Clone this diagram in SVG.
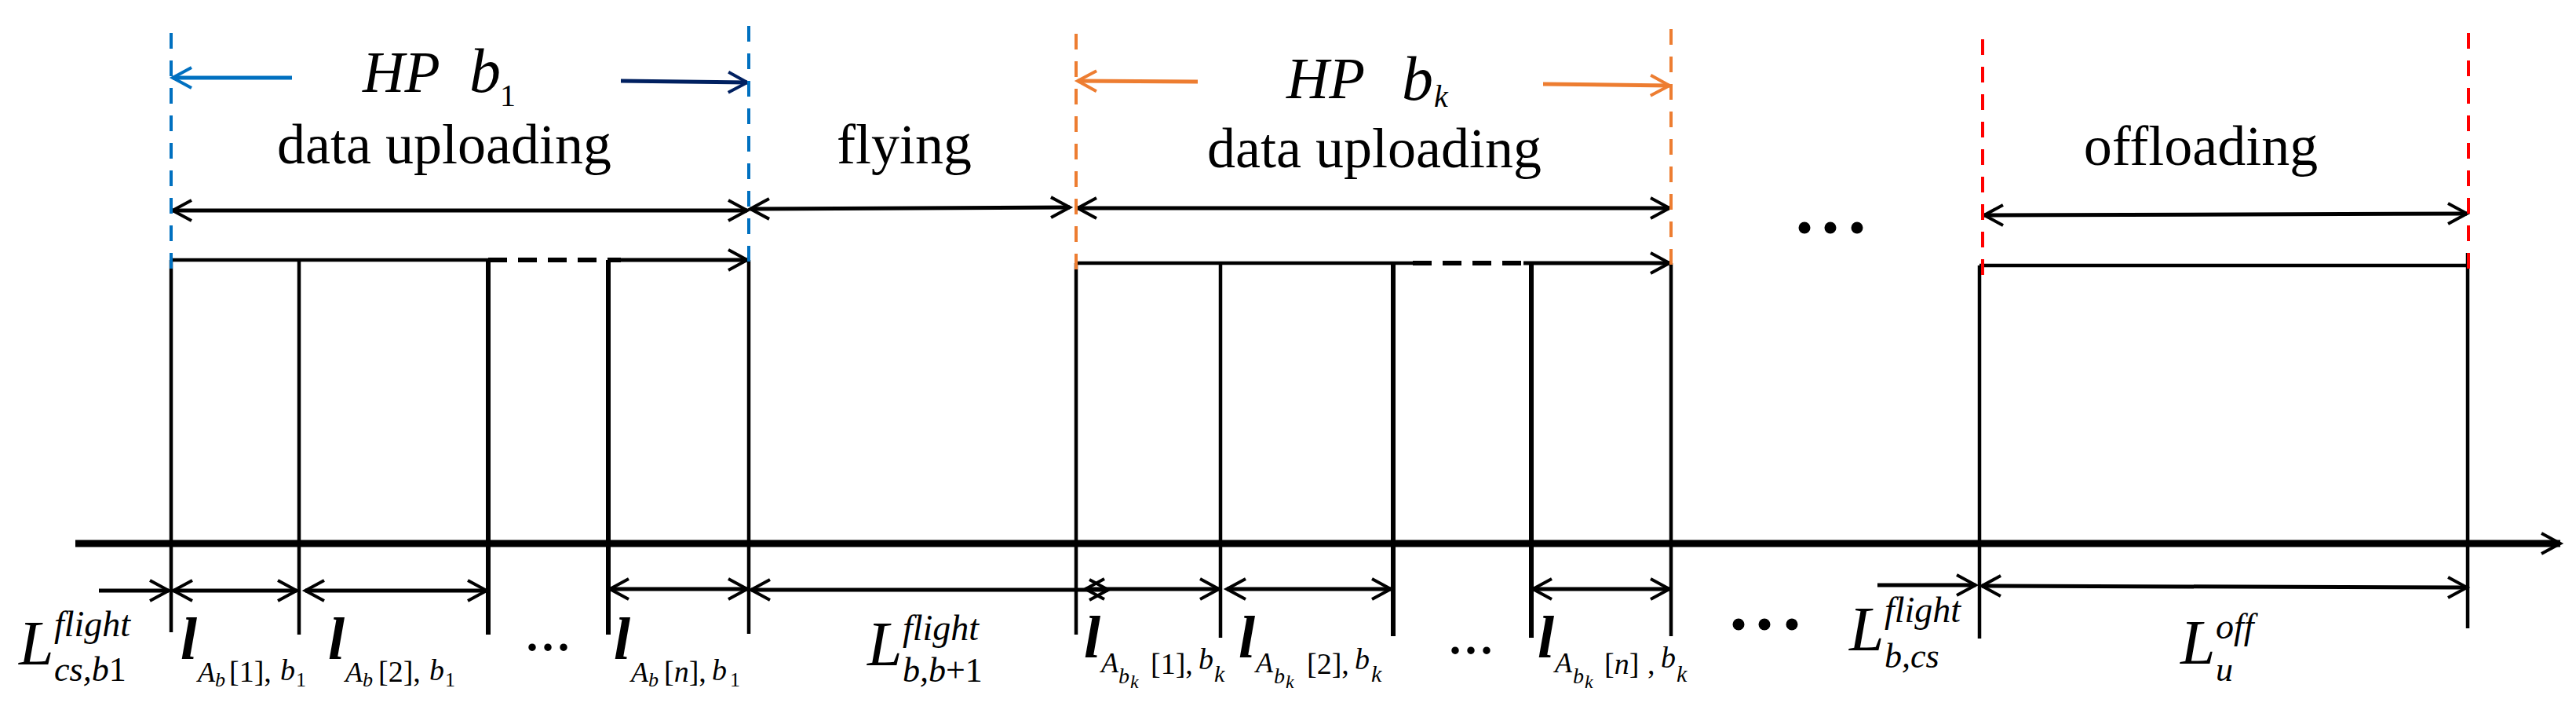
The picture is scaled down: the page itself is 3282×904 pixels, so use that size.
<svg xmlns="http://www.w3.org/2000/svg" width="3282" height="904" viewBox="0 0 3282 904">
<style>
.t{font-family:"Liberation Serif","Times New Roman",serif;fill:#000}
.i{font-style:italic}
.bi{font-style:italic;font-weight:bold}
.ln{stroke:#000;stroke-width:4.5;fill:none}
.thk{stroke:#000;stroke-width:6;fill:none}
.ar{stroke:#000;stroke-width:5;fill:none;marker-end:url(#ah)}
.dar{stroke:#000;stroke-width:5;fill:none;marker-start:url(#ah);marker-end:url(#ah)}
.dsh{stroke-width:4;stroke-dasharray:20 15;fill:none}
</style>
<defs>
<marker id="ah" viewBox="-28 -16 32 32" refX="0" refY="0" markerWidth="32" markerHeight="32" markerUnits="userSpaceOnUse" orient="auto-start-reverse" overflow="visible"><path d="M-24,-13 L0,0 L-24,13" fill="none" stroke="#000" stroke-width="4"/></marker>
<marker id="ahBlue" viewBox="-28 -16 32 32" refX="0" refY="0" markerWidth="32" markerHeight="32" markerUnits="userSpaceOnUse" orient="auto" overflow="visible"><path d="M-24,-13 L0,0 L-24,13" fill="none" stroke="#0070C0" stroke-width="4"/></marker>
<marker id="ahNavy" viewBox="-28 -16 32 32" refX="0" refY="0" markerWidth="32" markerHeight="32" markerUnits="userSpaceOnUse" orient="auto" overflow="visible"><path d="M-24,-13 L0,0 L-24,13" fill="none" stroke="#002060" stroke-width="4"/></marker>
<marker id="ahOrange" viewBox="-28 -16 32 32" refX="0" refY="0" markerWidth="32" markerHeight="32" markerUnits="userSpaceOnUse" orient="auto" overflow="visible"><path d="M-24,-13 L0,0 L-24,13" fill="none" stroke="#ED7D31" stroke-width="4"/></marker>
</defs>
<rect width="3282" height="904" fill="#fff"/>

<g id="axis">
<line x1="96" y1="692" x2="3262" y2="692" stroke="#000" stroke-width="9" marker-end="url(#ah)"/>
</g>

<g id="block1">
<path class="ln" d="M218,331 L622,331"/>
<path class="thk" d="M622,331 L791,331" stroke-dasharray="24 14"/>
<path class="ar" d="M791,331 L952,331"/>
<line class="ln" x1="218" y1="331" x2="218" y2="805"/>
<line class="ln" x1="381" y1="331" x2="381" y2="808"/>
<line class="thk" x1="622" y1="331" x2="622" y2="808"/>
<line class="thk" x1="775" y1="331" x2="775" y2="808"/>
<line class="ln" x1="954" y1="331" x2="954" y2="807"/>
<text class="t i" x="462" y="117" font-size="74">HP</text>
<text class="t"><tspan class="i" x="598" y="117" font-size="80">b</tspan><tspan x="637" y="135" font-size="40">1</tspan></text>
<text class="t" x="566" y="208" font-size="72" text-anchor="middle">data uploading</text>
</g>

<g id="flying">
<text class="t" x="1152" y="208" font-size="72" text-anchor="middle">flying</text>
</g>

<g id="block2">
<path class="ln" d="M1371,335 L1800,335"/>
<path class="thk" d="M1800,335 L1941,335" stroke-dasharray="24 14"/>
<path class="ar" d="M1941,335 L2127,335"/>
<line class="ln" x1="1371" y1="335" x2="1371" y2="808"/>
<line class="ln" x1="1555" y1="335" x2="1555" y2="812"/>
<line class="thk" x1="1775" y1="335" x2="1775" y2="810"/>
<line class="thk" x1="1951" y1="335" x2="1951" y2="812"/>
<line class="ln" x1="2129" y1="335" x2="2129" y2="810"/>
<text class="t i" x="1639" y="125" font-size="75">HP</text>
<text class="t i"><tspan x="1786" y="127" font-size="80">b</tspan><tspan x="1827" y="136" font-size="40">k</tspan></text>
<text class="t" x="1751" y="213" font-size="72" text-anchor="middle">data uploading</text>
</g>

<g id="block3">
<path class="ln" d="M2522,338 L3144,338"/>
<line class="ln" x1="2522" y1="338" x2="2522" y2="813"/>
<line class="ln" x1="3144" y1="322" x2="3144" y2="800"/>
<text class="t" x="2804" y="210" font-size="72" text-anchor="middle">offloading</text>
</g>

<g id="ellipses">
<circle cx="2299" cy="290" r="7.5"/><circle cx="2332" cy="290" r="7.5"/><circle cx="2366" cy="290" r="7.5"/>
<circle cx="2215" cy="795" r="7.5"/><circle cx="2248" cy="795" r="7.5"/><circle cx="2283" cy="795" r="7.5"/>
<text class="t" x="668" y="828" font-size="80">...</text>
<text class="t" x="1844" y="832" font-size="80">...</text>
</g>

<g id="connectors">
<path class="dar" d="M220,268 L952,268"/>
<path class="dar" d="M956,266 L1363,264"/>
<path class="dar" d="M1373,265 L2127,265"/>
<path class="dar" d="M2528,274 L3143,272"/>
<path d="M372,99 L220,99" stroke="#0070C0" stroke-width="5" fill="none" marker-end="url(#ahBlue)"/>
<path d="M791,103 L952,105" stroke="#002060" stroke-width="5" fill="none" marker-end="url(#ahNavy)"/>
<path d="M1526,104 L1373,103" stroke="#ED7D31" stroke-width="5" fill="none" marker-end="url(#ahOrange)"/>
<path d="M1966,107 L2127,109" stroke="#ED7D31" stroke-width="5" fill="none" marker-end="url(#ahOrange)"/>
<line class="dsh" stroke="#0070C0" x1="218" y1="42" x2="218" y2="343"/>
<line class="dsh" stroke="#0070C0" x1="954" y1="33" x2="954" y2="337"/>
<line class="dsh" stroke="#ED7D31" x1="1371" y1="43" x2="1371" y2="348"/>
<line class="dsh" stroke="#ED7D31" x1="2129" y1="37" x2="2129" y2="343"/>
<line class="dsh" stroke="#FF0000" x1="2526" y1="50" x2="2526" y2="353"/>
<line class="dsh" stroke="#FF0000" x1="3145" y1="42" x2="3145" y2="345"/>
<path class="ar" d="M126,752 L215,752"/>
<path class="dar" d="M221,752 L378,752"/>
<path class="dar" d="M389,752 L620,752"/>
<path class="dar" d="M777,750 L952,750"/>
<path class="dar" d="M957,751 L1412,751"/>
<path class="dar" d="M1383,750 L1553,750"/>
<path class="dar" d="M1563,750 L1772,750"/>
<path class="dar" d="M1953,750 L2127,750"/>
<path class="ar" d="M2392,745 L2517,745"/>
<path class="dar" d="M2525,746 L3143,748"/>
</g>

<g id="labels">
<text class="t"><tspan class="i" x="24" y="846" font-size="80">L</tspan><tspan class="i" x="69" y="810" font-size="46">flight</tspan><tspan class="i" x="69" y="867" font-size="44">cs,b</tspan><tspan font-size="44">1</tspan></text>
<text class="t"><tspan class="bi" x="230" y="839" font-size="76">l</tspan><tspan class="i" x="252" y="868" font-size="36">A</tspan><tspan class="i" x="274" y="874" font-size="26">b</tspan><tspan x="292" y="868" font-size="38">[1],</tspan><tspan class="i" x="357" y="866" font-size="38">b</tspan><tspan x="377" y="874" font-size="26">1</tspan></text>
<text class="t"><tspan class="bi" x="418" y="839" font-size="76">l</tspan><tspan class="i" x="440" y="868" font-size="36">A</tspan><tspan class="i" x="462" y="874" font-size="26">b</tspan><tspan x="482" y="868" font-size="38">[2],</tspan><tspan class="i" x="547" y="866" font-size="38">b</tspan><tspan x="567" y="874" font-size="26">1</tspan></text>
<text class="t"><tspan class="bi" x="782" y="839" font-size="76">l</tspan><tspan class="i" x="804" y="868" font-size="36">A</tspan><tspan class="i" x="826" y="874" font-size="26">b</tspan><tspan x="846" y="868" font-size="38">[</tspan><tspan class="i" font-size="38">n</tspan><tspan font-size="38">],</tspan><tspan class="i" x="907" y="866" font-size="38">b</tspan><tspan x="930" y="874" font-size="26">1</tspan></text>
<text class="t"><tspan class="i" x="1105" y="847" font-size="80">L</tspan><tspan class="i" x="1150" y="815" font-size="46">flight</tspan><tspan class="i" x="1150" y="868" font-size="44">b,b</tspan><tspan font-size="44">+1</tspan></text>
<text class="t"><tspan class="bi" x="1381" y="837" font-size="76">l</tspan><tspan class="i" x="1403" y="856" font-size="36">A</tspan><tspan class="i" x="1425" y="870" font-size="28">b</tspan><tspan class="i" x="1440" y="876" font-size="24">k</tspan><tspan x="1466" y="858" font-size="38">[1],</tspan><tspan class="i" x="1527" y="852" font-size="38">b</tspan><tspan class="i" x="1547" y="868" font-size="30">k</tspan></text>
<text class="t"><tspan class="bi" x="1578" y="837" font-size="76">l</tspan><tspan class="i" x="1600" y="856" font-size="36">A</tspan><tspan class="i" x="1623" y="870" font-size="28">b</tspan><tspan class="i" x="1638" y="876" font-size="24">k</tspan><tspan x="1665" y="858" font-size="38">[2],</tspan><tspan class="i" x="1726" y="852" font-size="38">b</tspan><tspan class="i" x="1747" y="868" font-size="30">k</tspan></text>
<text class="t"><tspan class="bi" x="1959" y="837" font-size="76">l</tspan><tspan class="i" x="1981" y="856" font-size="36">A</tspan><tspan class="i" x="2004" y="870" font-size="28">b</tspan><tspan class="i" x="2019" y="876" font-size="24">k</tspan><tspan x="2044" y="858" font-size="38">[</tspan><tspan class="i" font-size="38">n</tspan><tspan font-size="38">]</tspan><tspan x="2099" font-size="38">,</tspan><tspan class="i" x="2116" y="850" font-size="38">b</tspan><tspan class="i" x="2136" y="868" font-size="30">k</tspan></text>
<text class="t"><tspan class="i" x="2356" y="828" font-size="80">L</tspan><tspan class="i" x="2401" y="792" font-size="46">flight</tspan><tspan class="i" x="2401" y="850" font-size="44">b,cs</tspan></text>
<text class="t"><tspan class="i" x="2778" y="845" font-size="80">L</tspan><tspan class="i" x="2823" y="813" font-size="46">off</tspan><tspan class="i" x="2823" y="867" font-size="44">u</tspan></text>
</g>
</svg>
